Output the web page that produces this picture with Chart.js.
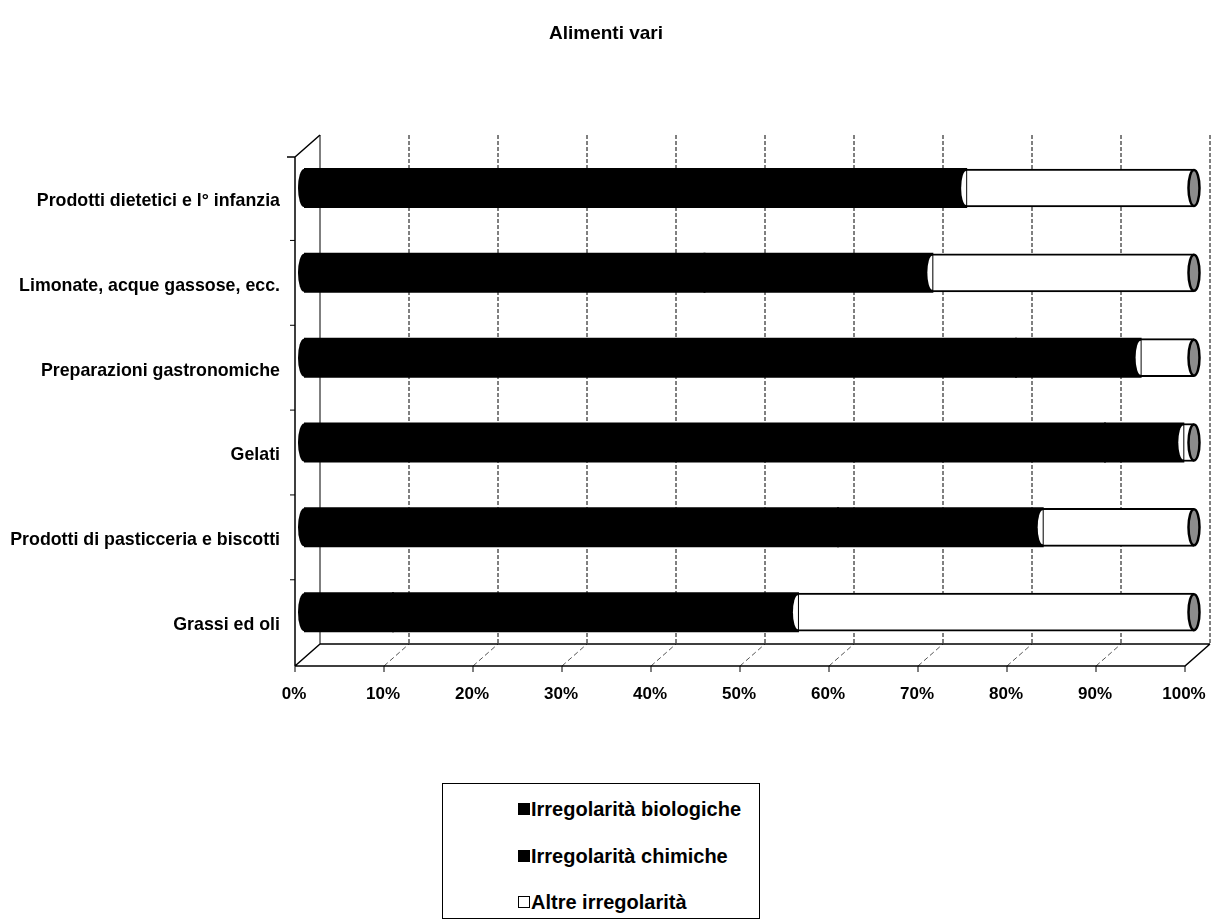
<!DOCTYPE html>
<html>
<head>
<meta charset="utf-8">
<script src="https://cdn.jsdelivr.net/npm/chart.js@4.4.1/dist/chart.umd.min.js"></script>
<style>
  body { margin: 0; background: #fff; }
  #wrap { position: relative; width: 1212px; height: 923px; }
  #legenda {
    position: absolute; left: 442px; top: 783px; width: 316px; height: 134px;
    border: 1px solid #000; background: #fff;
    font: bold 20px "Liberation Sans", Arial, sans-serif; color: #000;
  }
  #legenda .voce { position: absolute; left: 75px; height: 24px; line-height: 24px; white-space: nowrap; }
  #legenda .quad { display: inline-block; width: 10px; height: 10px; border: 1px solid #000; margin-right: 1px; vertical-align: 1px; }
</style>
</head>
<body>
<div id="wrap">
  <canvas id="grafico" width="1212" height="923"></canvas>
  <div id="legenda"></div>
</div>
<script>
const categorie = [
  'Prodotti dietetici e l° infanzia',
  'Limonate, acque gassose, ecc.',
  'Preparazioni gastronomiche',
  'Gelati',
  'Prodotti di pasticceria e biscotti',
  'Grassi ed oli'
];
// percentuali (le due parti nere non si distinguono nell'originale)
const biologiche = [50, 45, 80, 90, 60, 10];
const chimiche = [24.4, 25.6, 14, 8.8, 23, 45.5];
const altre = [25.6, 29.4, 6, 1.2, 17, 44.5];
const tickX = [0, 10, 20, 30, 40, 50, 60, 70, 80, 90, 100];

// offsets of the fake 3D box
const dietro = 16, davanti = -9;
const fondoDietro = 644, fondoDavanti = 666, cimaDietro = 135, cimaDavanti = 157;

const cornice3d = {
  id: 'cornice3d',
  beforeDatasetsDraw(chart) {
    const ctx = chart.ctx;
    const sx = chart.scales.x, sy = chart.scales.y;
    ctx.save();
    ctx.strokeStyle = '#000';

    // pareti: linee verticali della griglia
    tickX.forEach((v, i) => {
      const bx = sx.getPixelForValue(v) + dietro;
      ctx.lineWidth = 1;
      ctx.setLineDash(i === 0 ? [] : [4, 2]);
      ctx.beginPath();
      ctx.moveTo(bx, cimaDietro);
      ctx.lineTo(bx, fondoDietro);
      ctx.stroke();
    });

    // pavimento: diagonali
    ctx.setLineDash([5, 3]);
    ctx.strokeStyle = '#555';
    tickX.slice(1, -1).forEach(v => {
      const p = sx.getPixelForValue(v);
      ctx.beginPath();
      ctx.moveTo(p + davanti, fondoDavanti);
      ctx.lineTo(p + dietro, fondoDietro);
      ctx.stroke();
    });
    ctx.setLineDash([]);
    ctx.strokeStyle = '#000';

    const x0 = sx.getPixelForValue(0), x1 = sx.getPixelForValue(100);
    ctx.lineWidth = 1.5;
    ctx.beginPath();
    // bordo posteriore del pavimento
    ctx.moveTo(x0 + dietro, fondoDietro);
    ctx.lineTo(x1 + dietro, fondoDietro);
    // bordo anteriore
    ctx.moveTo(x0 + davanti, fondoDavanti);
    ctx.lineTo(x1 + davanti, fondoDavanti);
    ctx.lineTo(x1 + dietro, fondoDietro);
    // parete sinistra
    ctx.moveTo(x0 + davanti, fondoDavanti);
    ctx.lineTo(x0 + dietro, fondoDietro);
    ctx.moveTo(x0 + davanti, fondoDavanti);
    ctx.lineTo(x0 + davanti, cimaDavanti);
    ctx.lineTo(x0 + dietro, cimaDietro);
    ctx.moveTo(x0 + davanti - 8, cimaDavanti);
    ctx.lineTo(x0 + davanti, cimaDavanti);
    ctx.stroke();

    // tacche asse x
    ctx.lineWidth = 1;
    tickX.forEach(v => {
      const p = sx.getPixelForValue(v) + davanti;
      ctx.beginPath();
      ctx.moveTo(p, fondoDavanti);
      ctx.lineTo(p, fondoDavanti + 6);
      ctx.stroke();
    });
    // tacche asse y
    for (let i = 0; i < categorie.length - 1; i++) {
      const yy = (sy.getPixelForValue(i) + sy.getPixelForValue(i + 1)) / 2 + 10;
      ctx.beginPath();
      ctx.moveTo(x0 + davanti - 5, yy);
      ctx.lineTo(x0 + davanti, yy);
      ctx.stroke();
    }
    ctx.restore();
  },
  afterDatasetsDraw(chart) {
    const ctx = chart.ctx;
    const primo = chart.getDatasetMeta(0).data;
    const ultimo = chart.getDatasetMeta(2).data;
    ctx.save();
    primo.forEach(bar => {
      const p = bar.getProps(['base', 'y', 'height'], true);
      ctx.fillStyle = '#000';
      ctx.beginPath();
      ctx.ellipse(p.base, p.y, 6, p.height / 2, 0, 0, Math.PI * 2);
      ctx.fill();
    });
    ultimo.forEach(bar => {
      const p = bar.getProps(['x', 'base', 'y', 'height'], true);
      const ry = p.height / 2;
      if (p.x - p.base > 1) {
        ctx.fillStyle = '#fff';
        ctx.beginPath();
        ctx.ellipse(p.base, p.y, 5, ry - 2, 0, Math.PI / 2, Math.PI * 1.5);
        ctx.fill();
      }
      ctx.fillStyle = '#8c8c8c';
      ctx.strokeStyle = '#000';
      ctx.lineWidth = 2.5;
      ctx.beginPath();
      ctx.ellipse(p.x, p.y, 5.5, ry - 1, 0, 0, Math.PI * 2);
      ctx.fill();
      ctx.stroke();
    });
    ctx.restore();
  }
};

Chart.defaults.font.family = '"Liberation Sans", Arial, sans-serif';
Chart.defaults.color = '#000';

const grafico = new Chart(document.getElementById('grafico'), {
  type: 'bar',
  data: {
    labels: categorie,
    datasets: [
      { label: 'Irregolarità biologiche', data: biologiche, backgroundColor: '#000', borderWidth: 0, inflateAmount: 1 },
      { label: 'Irregolarità chimiche', data: chimiche, backgroundColor: '#000', borderWidth: 0, inflateAmount: 1 },
      {
        label: 'Altre irregolarità', data: altre, backgroundColor: '#fff', borderColor: '#000',
        borderWidth: { top: 2, bottom: 2, left: 0, right: 0 }
      }
    ]
  },
  options: {
    indexAxis: 'y',
    responsive: false,
    animation: false,
    barThickness: 38,
    layout: { padding: { left: 0, right: 0, top: 0, bottom: 220 } },
    plugins: {
      legend: { display: false },
      tooltip: { enabled: false },
      title: {
        display: true,
        text: 'Alimenti vari',
        font: { size: 19, weight: 'bold' },
        padding: { top: 22, bottom: 100.8 }
      }
    },
    scales: {
      x: {
        stacked: true,
        min: 0,
        max: 100,
        afterBuildTicks: s => { s.ticks = tickX.map(v => ({ value: v })); },
        afterFit: s => { s.height = 48.4; s.paddingLeft = 0; s.paddingRight = 18; },
        grid: { display: false, drawTicks: false },
        border: { display: false },
        ticks: {
          callback: v => v + '%',
          font: { size: 17, weight: 'bold' },
          padding: 30,
          labelOffset: -10,
          maxRotation: 0
        }
      },
      y: {
        stacked: true,
        afterFit: s => { s.width = 304; s.paddingTop = 0; s.paddingBottom = 0; },
        grid: { display: false, drawTicks: false },
        border: { display: false },
        ticks: {
          font: { size: 17.8, weight: 'bold' },
          padding: 24,
          labelOffset: 13
        }
      }
    }
  },
  plugins: [cornice3d]
});

// legenda in HTML dai dataset
const legenda = document.getElementById('legenda');
const righe = [25, 72, 118];
grafico.data.datasets.forEach((ds, i) => {
  const voce = document.createElement('div');
  voce.className = 'voce';
  voce.style.top = (righe[i] - 12) + 'px';
  const quad = document.createElement('span');
  quad.className = 'quad';
  quad.style.background = ds.backgroundColor;
  voce.append(quad, document.createTextNode(ds.label));
  legenda.append(voce);
});
</script>
</body>
</html>
